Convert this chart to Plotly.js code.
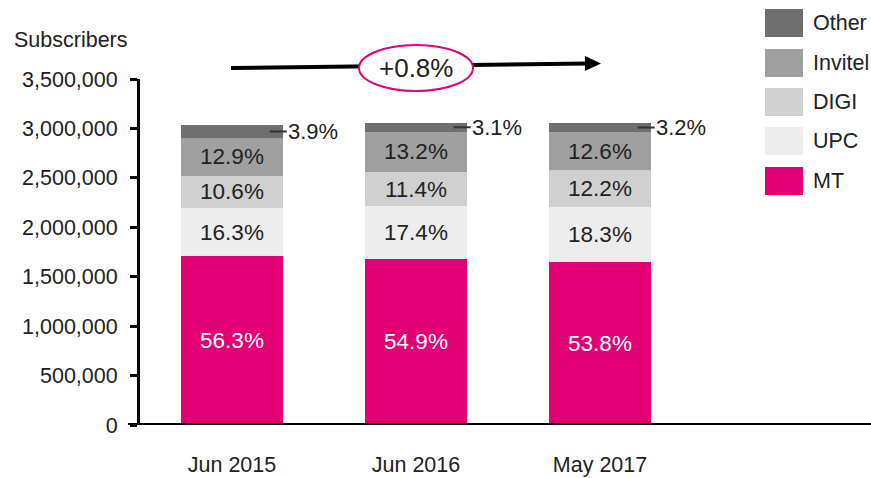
<!DOCTYPE html>
<html>
<head>
<meta charset="utf-8">
<script src="https://cdn.plot.ly/plotly-3.0.1.min.js"></script>
<style>html,body{margin:0;padding:0;background:#fff;}#chart{width:871px;height:478px;}</style>
</head>
<body>
<div id="chart"></div>
<script>
// ---- data ----
const categories = ['Jun 2015', 'Jun 2016', 'May 2017'];
const seriesNames = ['MT', 'UPC', 'DIGI', 'Invitel', 'Other'];
const mtValues      = [1706000, 1680000, 1644000];
const upcValues     = [490000, 532000, 559000];
const digiValues    = [322000, 349000, 373000];
const invitelValues = [388000, 404000, 385000];
const otherValues   = [124000, 95000, 98000];
const mtLabels      = ['56.3%', '54.9%', '53.8%'];
const upcLabels     = ['16.3%', '17.4%', '18.3%'];
const digiLabels    = ['10.6%', '11.4%', '12.2%'];
const invitelLabels = ['12.9%', '13.2%', '12.6%'];
const otherLabels   = ['3.9%', '3.1%', '3.2%'];
const growthLabel   = '+0.8%';
const yTickVals = [0, 500000, 1000000, 1500000, 2000000, 2500000, 3000000, 3500000];

// ---- styles ----
const FONT = '"Liberation Sans", Arial, sans-serif';
const colors = ['#E20074', '#EDEDED', '#D0D0D0', '#A0A0A0', '#6E6E6E'];
const values = [mtValues, upcValues, digiValues, invitelValues, otherValues];
const labels = [mtLabels, upcLabels, digiLabels, invitelLabels, otherLabels];
const textColors = ['#ffffff', '#222222', '#222222', '#222222', '#222222'];

// plot area in pixels: x 140..692, y 79..425
const L = 140, R = 692, T = 79, B = 425;
const px = x => (x - L) / (R - L);
const py = y => (B - y) / (B - T);

const traces = seriesNames.map((name, i) => ({
  type: 'bar',
  name: name,
  x: categories,
  y: values[i],
  text: labels[i],
  texttemplate: '%{text}',
  textposition: i === 4 ? 'none' : 'inside',
  insidetextanchor: 'middle',
  constraintext: 'none',
  textfont: {family: FONT, size: 22.5, color: textColors[i]},
  marker: {color: colors[i], line: {width: 0}},
  hoverinfo: 'skip',
  showlegend: false
}));

const shapes = [];
const annotations = [];

// x-axis baseline extended
shapes.push({type: 'line', xref: 'paper', yref: 'y', x0: px(128), x1: px(872), y0: 0, y1: 0,
  line: {color: '#000', width: 4}});

// growth arrow
shapes.push({type: 'line', xref: 'paper', yref: 'paper', x0: px(231), y0: py(68), x1: px(588), y1: py(63.5),
  line: {color: '#000', width: 4}});
shapes.push({type: 'path', xref: 'paper', yref: 'paper',
  path: `M ${px(585)} ${py(56)} L ${px(601)} ${py(63.5)} L ${px(585)} ${py(71)} Z`,
  fillcolor: '#000', line: {color: '#000', width: 0}});
shapes.push({type: 'circle', xref: 'paper', yref: 'paper', x0: px(359), x1: px(473), y0: py(91), y1: py(45),
  fillcolor: '#fff', line: {color: '#E20074', width: 2}});
annotations.push({xref: 'paper', yref: 'paper', x: px(416), y: py(68), text: growthLabel, showarrow: false,
  xanchor: 'center', yanchor: 'middle', font: {family: FONT, size: 26, color: '#222'}});

// y-axis title
annotations.push({xref: 'paper', yref: 'paper', x: px(12), y: py(40), text: 'Subscribers', showarrow: false,
  xanchor: 'left', yanchor: 'middle', font: {family: FONT, size: 21.5, color: '#222'}});

// "Other" callouts
categories.forEach((c, j) => {
  const below = mtValues[j] + upcValues[j] + digiValues[j] + invitelValues[j];
  annotations.push({xref: 'x', yref: 'y', x: j + 0.205, y: below + otherValues[j] / 2,
    text: otherLabels[j], showarrow: true, arrowhead: 0, arrowwidth: 2, arrowcolor: '#333',
    ax: 17, ay: 0, xanchor: 'left', yanchor: 'middle', standoff: 0, borderpad: 0,
    font: {family: FONT, size: 22, color: '#222'}});
});

// custom legend (top to bottom: Other, Invitel, DIGI, UPC, MT)
const legendTops = [9, 49, 88, 127, 167];
for (let k = 0; k < 5; k++) {
  const i = 4 - k;
  const top = legendTops[k];
  shapes.push({type: 'rect', xref: 'paper', yref: 'paper', x0: px(765), x1: px(803), y0: py(top + 28), y1: py(top),
    fillcolor: colors[i], line: {width: 0}});
  annotations.push({xref: 'paper', yref: 'paper', x: px(811), y: py(top + 14), text: seriesNames[i],
    showarrow: false, xanchor: 'left', yanchor: 'middle', font: {family: FONT, size: 21.5, color: '#222'}});
}

const layout = {
  width: 871, height: 478,
  margin: {l: L, r: 871 - R, t: T, b: 478 - B, pad: 0},
  paper_bgcolor: '#fff', plot_bgcolor: '#fff',
  barmode: 'stack',
  bargap: 0.446,
  showlegend: false,
  font: {family: FONT, size: 21.5, color: '#222'},
  xaxis: {
    type: 'category', range: [-0.5, 2.5], showline: false, showgrid: false, zeroline: false,
    ticks: '', ticklabelstandoff: 24, tickfont: {family: FONT, size: 21.5, color: '#222'}, fixedrange: true
  },
  yaxis: {
    range: [0, 3500000], tickvals: yTickVals, tickformat: ',d',
    showline: true, linecolor: '#000', linewidth: 3,
    ticks: 'outside', ticklen: 7, tickwidth: 3, tickcolor: '#000',
    showgrid: false, zeroline: false, ticklabelstandoff: 8,
    tickfont: {family: FONT, size: 21.5, color: '#222'}, fixedrange: true
  },
  shapes: shapes,
  annotations: annotations
};

Plotly.newPlot('chart', traces, layout, {displayModeBar: false, staticPlot: true});
</script>
</body>
</html>
